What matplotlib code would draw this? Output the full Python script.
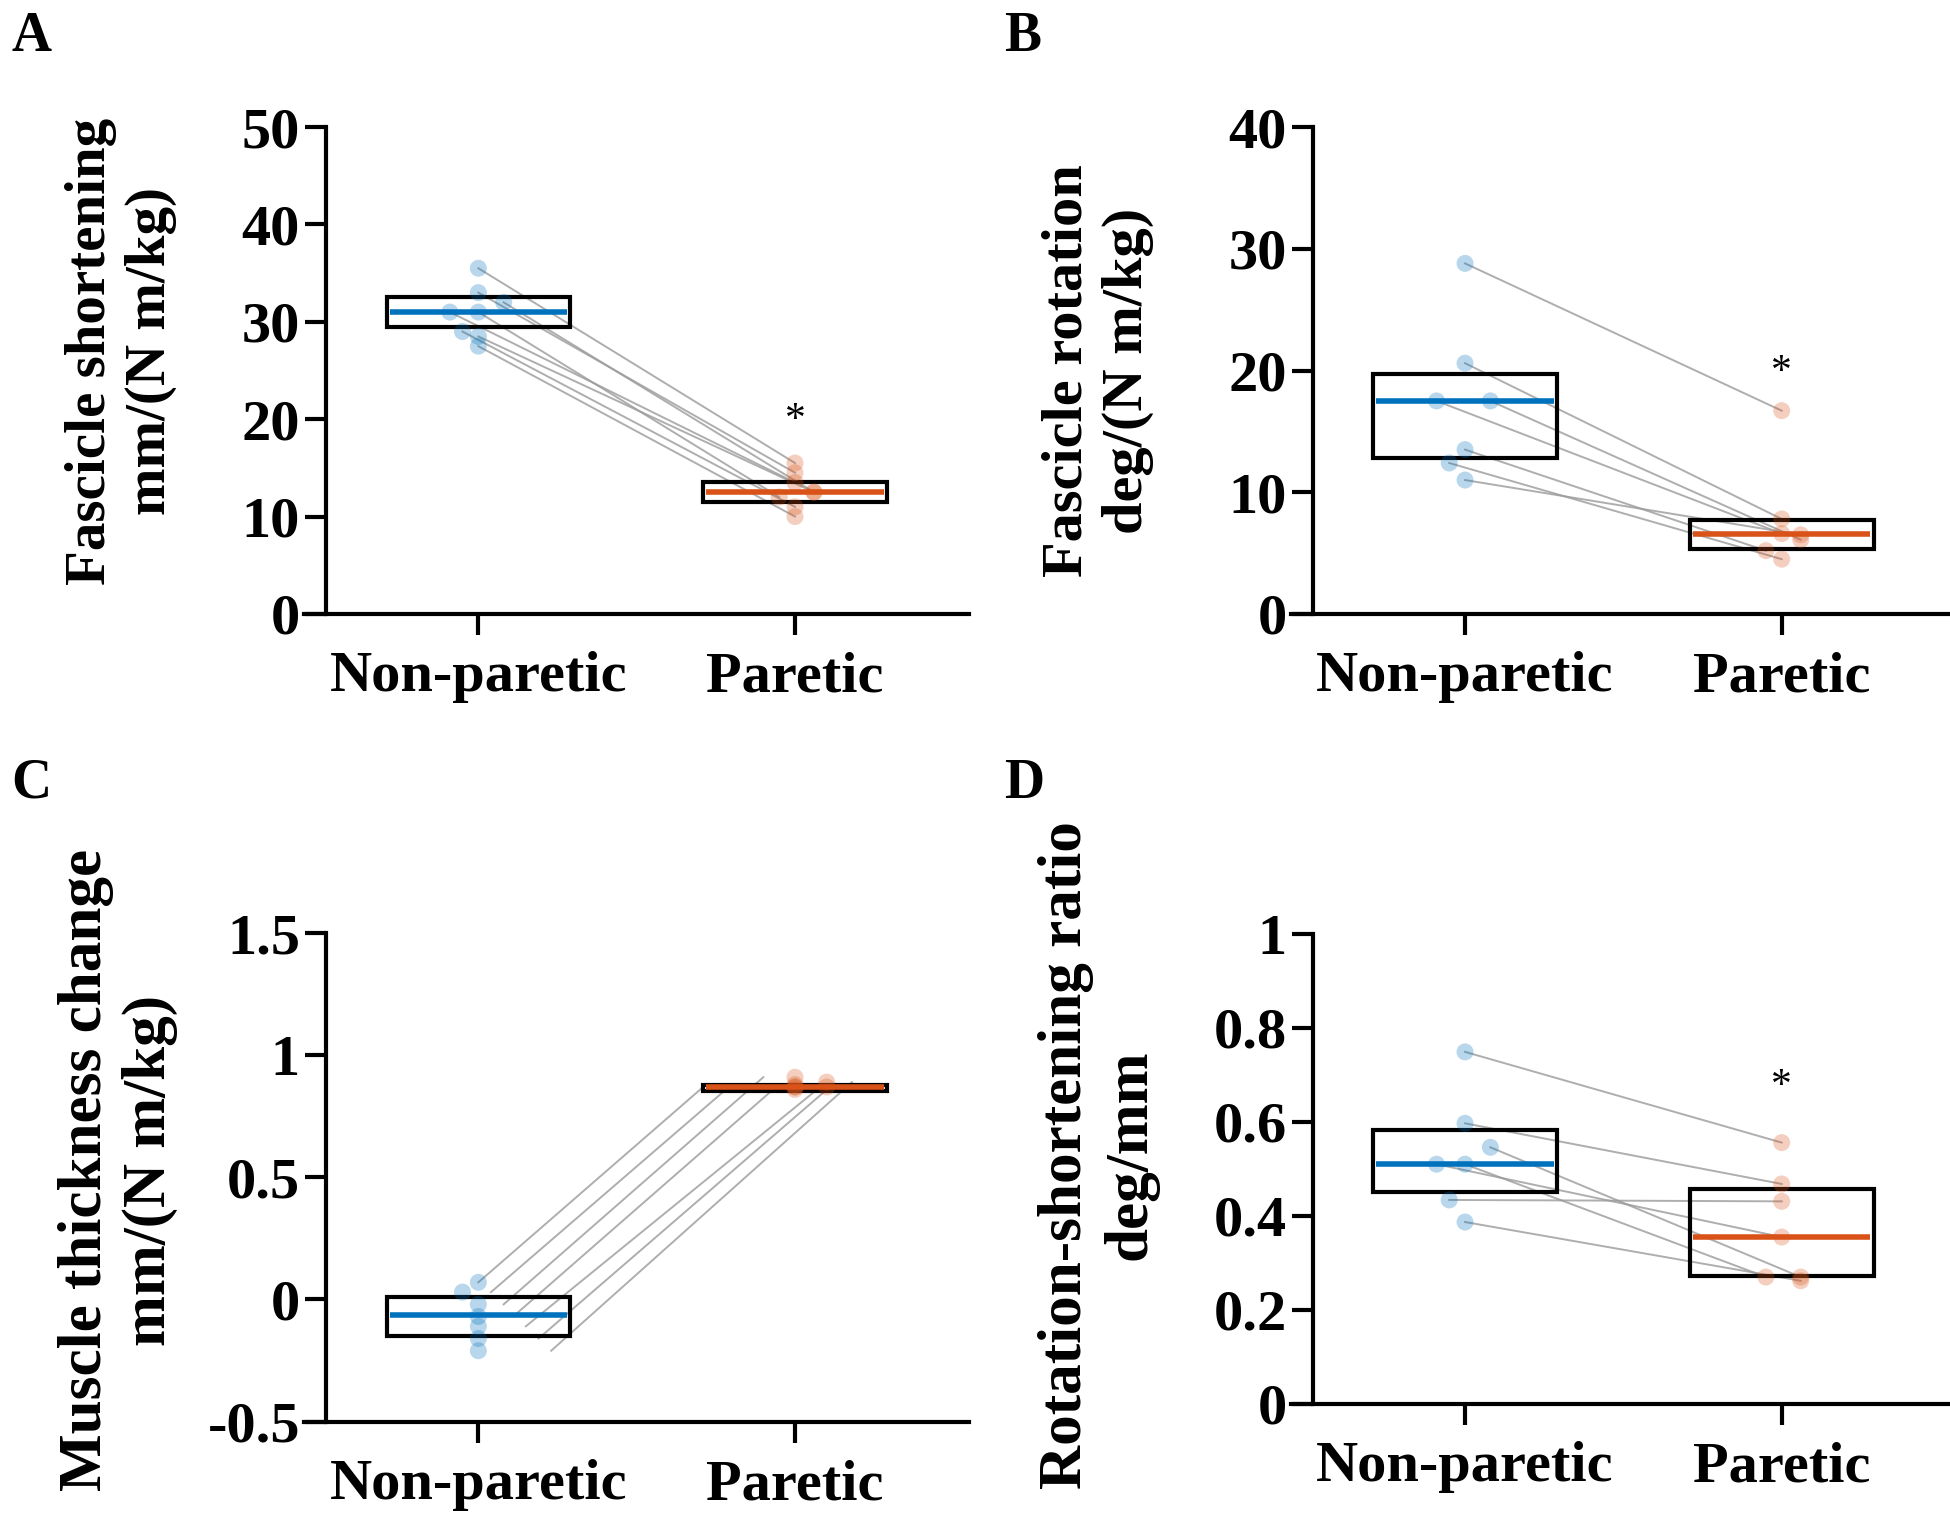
import matplotlib
matplotlib.use("Agg")
import matplotlib.pyplot as plt
from matplotlib.ticker import FuncFormatter

plt.rcParams['font.family'] = ['Liberation Serif', 'DejaVu Serif']
plt.rcParams['font.weight'] = 'bold'

groups = ["Non-paretic", "Paretic"]

# Panel A - fascicle shortening
a_np = [35.5, 33.0, 32.0, 31.0, 31.0, 29.0, 28.5, 27.5]
a_p = [15.5, 14.5, 12.5, 13.5, 12.0, 11.0, 12.5, 10.0]
a_np_box = [29.5, 32.5, 31.0]   # low, high, median
a_p_box = [11.5, 13.5, 12.5]

# Panel B - fascicle rotation
b_np = [28.8, 20.6, 17.5, 17.5, 13.5, 12.4, 11.0]
b_p = [16.7, 7.8, 6.1, 6.6, 5.2, 4.5, 6.5]
b_np_box = [12.8, 19.7, 17.5]
b_p_box = [5.3, 7.7, 6.6]

# Panel C - muscle thickness change
c_np = [0.07, 0.03, -0.02, -0.07, -0.11, -0.16, -0.21]
c_p = [0.87, 0.88, 0.91, 0.87, 0.86, 0.87, 0.89]
c_np_box = [-0.15, 0.01, -0.065]
c_p_box = [0.855, 0.88, 0.868]

# Panel D - rotation-shortening ratio
d_np = [0.749, 0.597, 0.546, 0.51, 0.51, 0.434, 0.387]
d_p = [0.556, 0.468, 0.27, 0.355, 0.27, 0.431, 0.262]
d_np_box = [0.451, 0.583, 0.51]
d_p_box = [0.272, 0.457, 0.355]

# small horizontal jitter of the dots / line ends
jit_np = [0.0, 0.0, 0.08, -0.09, 0.0, -0.05, 0.0, 0.0]
jit_p = [0.0, 0.0, 0.06, 0.0, -0.05, 0.0, 0.06, 0.0]
c_dot_np = [0.0, -0.05, 0.0, 0.0, 0.0, 0.0, 0.0]
c_dot_p = [0.0, 0.0, 0.0, 0.1, 0.0, 0.0, 0.1]
c_line_np = [0.0, 0.04, 0.08, 0.11, 0.15, 0.19, 0.23]
c_line_p = [-0.29, -0.2, -0.1, -0.06, 0.07, 0.11, 0.18]

BLUE = "#0072BD"
ORANGE = "#D95319"

fig = plt.figure(figsize=(19.5, 15.31), dpi=100)

panels = [
    ("A", [0.156, 0.599, 0.341, 0.318], a_np, a_p, a_np_box, a_p_box, (0, 50), [0, 10, 20, 30, 40, 50],
     "Fascicle shortening\nmm/(N m/kg)", (-0.275, 0.54), 41, 19.8,
     (jit_np, jit_p), (jit_np, jit_p), (0.006, 0.976)),
    ("B", [0.662, 0.599, 0.341, 0.318], b_np, b_p, b_np_box, b_p_box, (0, 40), [0, 10, 20, 30, 40],
     "Fascicle rotation\ndeg/(N m/kg)", (-0.29, 0.5), 42, 19.8,
     (jit_np, jit_p), (jit_np, jit_p), (0.515, 0.976)),
    ("C", [0.156, 0.0715, 0.341, 0.319], c_np, c_p, c_np_box, c_p_box, (-0.5, 1.5), [-0.5, 0, 0.5, 1, 1.5],
     "Muscle thickness change\nmm/(N m/kg)", (-0.28, 0.515), 44, None,
     (c_dot_np, c_dot_p), (c_line_np, c_line_p), (0.006, 0.488)),
    ("D", [0.662, 0.083, 0.341, 0.307], d_np, d_p, d_np_box, d_p_box, (0, 1), [0, 0.2, 0.4, 0.6, 0.8, 1],
     "Rotation-shortening ratio\ndeg/mm", (-0.29, 0.53), 44, 0.675,
     (jit_np, jit_p), (jit_np, jit_p), (0.515, 0.488)),
]

for (letter, pos, v_np, v_p, box_np, box_p, ylim, yticks, ylabel, lab_xy, lab_fs,
     star_y, dot_jit, line_jit, let_xy) in panels:
    ax = fig.add_axes(pos)
    n = len(v_np)

    # paired lines
    for i in range(n):
        ax.plot([0 + line_jit[0][i], 1 + line_jit[1][i]], [v_np[i], v_p[i]],
                color="#9a9a9a", lw=1.4, alpha=0.8, zorder=2)

    # boxes (low-high) with median line
    for xc, box, col in [(0, box_np, BLUE), (1, box_p, ORANGE)]:
        ax.bar(xc, box[1] - box[0], bottom=box[0], width=0.58, fill=False,
               edgecolor="black", linewidth=3, zorder=3)
        ax.hlines(box[2], xc - 0.28, xc + 0.28, color=col, lw=4, zorder=4)

    ax.scatter([0 + dot_jit[0][i] for i in range(n)], v_np, s=150, color=BLUE,
               alpha=0.28, edgecolors="none", zorder=5)
    ax.scatter([1 + dot_jit[1][i] for i in range(n)], v_p, s=150, color=ORANGE,
               alpha=0.28, edgecolors="none", zorder=5)

    if star_y is not None:
        ax.text(1, star_y, "*", ha="center", va="center", fontsize=30, fontweight="normal")

    ax.set_xlim(-0.55, 1.55)
    ax.set_ylim(*ylim)
    ax.spines['left'].set_position(('data', -0.48))
    ax.spines['top'].set_visible(False)
    ax.spines['right'].set_visible(False)
    for s in ['left', 'bottom']:
        ax.spines[s].set_linewidth(3)
    ax.set_xticks([0, 1])
    ax.set_xticklabels(groups)
    ax.set_yticks(yticks)
    ax.yaxis.set_major_formatter(FuncFormatter(lambda v, p: "%g" % v))
    ax.tick_params(axis='both', width=3, length=15, direction='out', labelsize=42)
    ax.tick_params(axis='x', pad=12)
    ax.tick_params(axis='y', pad=4)
    ax.text(lab_xy[0], lab_xy[1], ylabel, transform=ax.transAxes, rotation=90,
            ha="center", va="center", fontsize=lab_fs, multialignment="center", linespacing=1.2)

    fig.text(let_xy[0], let_xy[1], letter, fontsize=40, ha="left", va="center")

fig.savefig("out.png", dpi=100)
